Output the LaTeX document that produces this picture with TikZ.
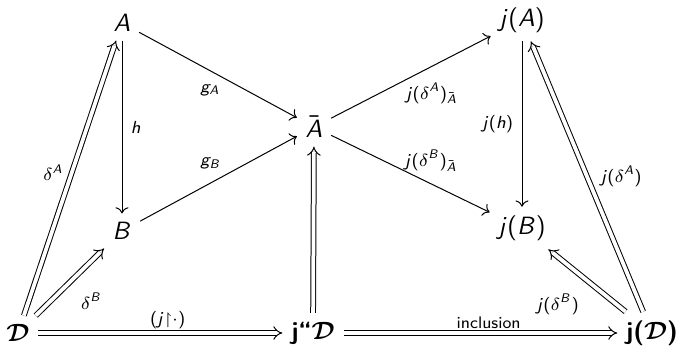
\documentclass[tikz,border=0pt]{standalone}
\usepackage{amsmath,amssymb}
\usepackage{tikz}
\usetikzlibrary{arrows.meta}

% sans serif math letters and operators
\DeclareSymbolFont{sfletters}{OT1}{cmss}{m}{sl}
\SetSymbolFont{operators}{normal}{OT1}{cmss}{m}{n}
\makeatletter
\count@=`A
\loop
	\mathcode\count@=\numexpr"7000+\symsfletters*"100+\count@\relax
	\advance\count@ by 1
\ifnum\count@<91 \repeat
\count@=`a
\loop
	\mathcode\count@=\numexpr"7000+\symsfletters*"100+\count@\relax
	\advance\count@ by 1
\ifnum\count@<123 \repeat
\makeatother

\begin{document}
\begin{tikzpicture}[x=0.4pt,y=-0.4pt,
		execute at begin picture={\sffamily},
		mor/.style={-{To}},
		dmor/.style={double,double distance=1.5pt,-{Implies}},
		lbl/.style={font=\fontsize{6.7}{8}\selectfont}]
		
		\useasboundingbox (0,0) rectangle (682,350);
		
		% Objects
		\node (A) at (122,23) {$A$};
		\node (B) at (122,231) {$B$};
		\node (Abar) at (314,127) {$\bar{A}$};
		\node (jA) at (522,20) {$j(A)$};
		\node (jB) at (522,228) {$j(B)$};
		\node (D) at (18,333) {$\boldsymbol{\mathcal{D}}$};
		\node (jdD) at (313,333) {\bfseries j``$\boldsymbol{\mathcal{D}}$};
		\node (jD) at (652,333) {\bfseries j($\boldsymbol{\mathcal{D}}$)};
		
		% Left triangle
		\draw[mor] (A) -- (B) node[lbl,midway,right] {$h$};
		\draw[mor] (A) -- (Abar) node[lbl,pos=0.45,below=2pt] {$g_A$};
		\draw[mor] (B) -- (Abar) node[lbl,pos=0.45,above=2pt] {$g_B$};
		
		% Right triangle
		\draw[mor] (Abar) -- (jA) node[lbl,pos=0.63,below=3pt] {$j(\delta^A)_{\bar{A}}$};
		\draw[mor] (Abar) -- (jB) node[lbl,pos=0.63,above=1.5pt] {$j(\delta^B)_{\bar{A}}$};
		\draw[mor] (jA) -- (jB) node[lbl,midway,left] {$j(h)$};
		
		% Double arrows from the bottom row
		\draw[dmor] (D) -- (A) node[lbl,pos=0.52,left=0pt] {$\delta^A$};
		\draw[dmor] (D) -- (B) node[lbl,pos=0.5,below right=0.8pt] {$\delta^B$};
		\draw[dmor] (D) -- (jdD) node[lbl,pos=0.53,above,inner sep=1.5pt] {$(j{\restriction}\cdot)$};
		\draw[dmor] (jdD) -- (Abar);
		\draw[dmor] (jdD) -- (jD) node[lbl,pos=0.53,above,inner sep=1.5pt] {inclusion};
		\draw[dmor] (jD) -- (jA) node[lbl,midway,right=2pt] {$j(\delta^A)$};
		\draw[dmor] (jD) -- (jB) node[lbl,pos=0.46,below left=1pt] {$j(\delta^B)$};
		
	\end{tikzpicture}
\end{document}
